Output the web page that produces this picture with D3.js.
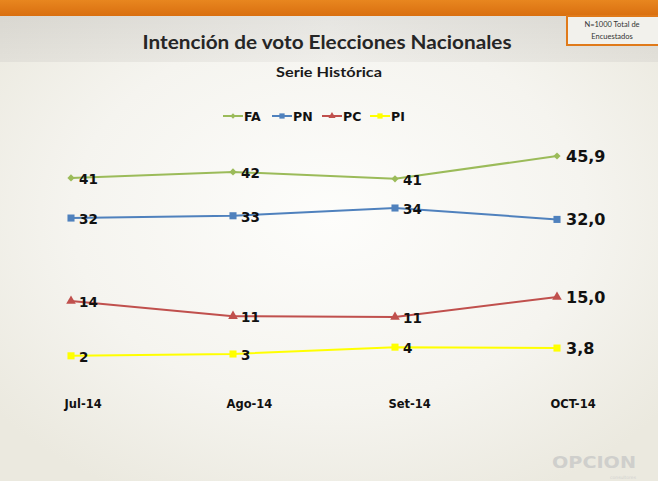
<!DOCTYPE html>
<html><head><meta charset="utf-8">
<script src="https://cdn.jsdelivr.net/npm/d3@7"></script>
<style>html,body{margin:0;padding:0;overflow:hidden;background:#f4f3ee}</style>
</head><body>
<svg id="c" width="658" height="481"></svg>
<script>
const months = ["Jul-14", "Ago-14", "Set-14", "OCT-14"];
const seriesNames = ["FA", "PN", "PC", "PI"];
const faValues = [41.1, 42.4, 40.9, 45.9];
const pnValues = [32.3, 32.8, 34.5, 32.0];
const pcValues = [14.1, 10.8, 10.6, 15.0];
const piValues = [2.1, 2.5, 4.0, 3.8];
const faLabels = ["41", "42", "41", "45,9"];
const pnLabels = ["32", "33", "34", "32,0"];
const pcLabels = ["14", "11", "11", "15,0"];
const piLabels = ["2", "3", "4", "3,8"];
const colors = ["#9bbb59", "#4f81bd", "#c0504d", "#ffff00"];

const series = [
  {name: seriesNames[0], values: faValues, labels: faLabels, color: colors[0], sym: d3.symbolSquare, rot: 45, size: 26},
  {name: seriesNames[1], values: pnValues, labels: pnLabels, color: colors[1], sym: d3.symbolSquare, rot: 0, size: 50},
  {name: seriesNames[2], values: pcValues, labels: pcLabels, color: colors[2], sym: d3.symbolTriangle, rot: 0, size: 40},
  {name: seriesNames[3], values: piValues, labels: piLabels, color: colors[3], sym: d3.symbolSquare, rot: 0, size: 50}
];

const svg = d3.select("#c");
const defs = svg.append("defs");
const bg = defs.append("radialGradient").attr("id","bg").attr("cx","50%").attr("cy","45%").attr("r","65%");
bg.append("stop").attr("offset","0%").attr("stop-color","#fdfdfb");
bg.append("stop").attr("offset","60%").attr("stop-color","#f5f4ef");
bg.append("stop").attr("offset","100%").attr("stop-color","#ebe9df");
const band = defs.append("linearGradient").attr("id","band").attr("x1","0").attr("x2","1");
band.append("stop").attr("offset","0%").attr("stop-color","#e2e0d9");
band.append("stop").attr("offset","50%").attr("stop-color","#efeeea");
band.append("stop").attr("offset","100%").attr("stop-color","#e2e0d9");
const band2 = defs.append("linearGradient").attr("id","band2").attr("x1","0").attr("x2","0").attr("y1","0").attr("y2","1");
band2.append("stop").attr("offset","0%").attr("stop-color","#000").attr("stop-opacity",0.04);
band2.append("stop").attr("offset","100%").attr("stop-color","#000").attr("stop-opacity",0.0);
const org = defs.append("linearGradient").attr("id","org").attr("x1","0").attr("x2","0").attr("y1","0").attr("y2","1");
org.append("stop").attr("offset","0%").attr("stop-color","#e8861f");
org.append("stop").attr("offset","100%").attr("stop-color","#d96f10");

svg.append("rect").attr("width",658).attr("height",481).attr("fill","url(#bg)");
svg.append("rect").attr("x",0).attr("y",16).attr("width",658).attr("height",46).attr("fill","url(#band)");
svg.append("rect").attr("x",0).attr("y",16).attr("width",658).attr("height",46).attr("fill","url(#band2)");
svg.append("rect").attr("x",0).attr("y",0).attr("width",658).attr("height",16).attr("fill","url(#org)");

// N box
svg.append("rect").attr("x",567).attr("y",16).attr("width",92).attr("height",29)
  .attr("fill","#f2f1ec").attr("stroke","#e07a1a").attr("stroke-width",2);
svg.append("text").attr("x",612).attr("y",27).attr("text-anchor","middle")
  .attr("font-family","Lato, 'Open Sans', sans-serif").attr("font-size",7.5).attr("fill","#333").text("N=1000 Total de");
svg.append("text").attr("x",612).attr("y",39).attr("text-anchor","middle")
  .attr("font-family","Lato, 'Open Sans', sans-serif").attr("font-size",7.5).attr("fill","#333").text("Encuestados");

// Titles
svg.append("text").attr("x",327).attr("y",49).attr("text-anchor","middle")
  .attr("font-family","Lato, sans-serif").attr("font-weight","bold").attr("font-size",19.5)
  .attr("fill","#262626").attr("textLength",369).attr("lengthAdjust","spacingAndGlyphs")
  .text("Intención de voto Elecciones Nacionales");
svg.append("text").attr("x",329).attr("y",77).attr("text-anchor","middle")
  .attr("font-family","Lato, sans-serif").attr("font-weight","bold").attr("font-size",13.5)
  .attr("fill","#1a1a1a").attr("textLength",106).attr("lengthAdjust","spacingAndGlyphs")
  .text("Serie Histórica");

// Legend
const legX = [223, 272, 322, 370];
const lg = svg.append("g");
series.forEach((s,i)=>{
  const g = lg.append("g").attr("transform",`translate(${legX[i]},116)`);
  g.append("line").attr("x1",0).attr("x2",20).attr("stroke",s.color).attr("stroke-width",2);
  g.append("path").attr("d",d3.symbol().type(s.sym).size(s.size*0.55)()).attr("transform",`translate(10,0) rotate(${s.rot})`).attr("fill",s.color);
  g.append("text").attr("x",21).attr("y",5).attr("font-family","'DejaVu Sans', sans-serif")
    .attr("font-weight","bold").attr("font-size",12.5).attr("fill","#111").text(s.name);
});

// Scales
const x = d3.scalePoint().domain(months).range([71, 557]);
const y = d3.scaleLinear().domain([0, 45.9]).range([365.4, 156]);

// X axis
const ax = svg.append("g").attr("transform","translate(0,398)")
  .call(d3.axisBottom(x).tickSize(0).tickPadding(0));
ax.select(".domain").remove();
ax.selectAll("text").attr("text-anchor","start").attr("dx",-7).attr("dy","0.35em").attr("y",6)
  .attr("font-family","'DejaVu Sans', sans-serif").attr("font-weight","bold").attr("font-size",11.5).attr("fill","#111");

// Lines
const line = d3.line().x((d,i)=>x(months[i])).y(d=>y(d));
series.forEach(s=>{
  svg.append("path").attr("d",line(s.values)).attr("fill","none").attr("stroke",s.color).attr("stroke-width",2);
});
series.forEach(s=>{
  svg.selectAll(null).data(s.values).enter().append("path")
    .attr("d",d3.symbol().type(s.sym).size(s.size)())
    .attr("transform",(d,i)=>`translate(${x(months[i])},${y(d)}) rotate(${s.rot})`)
    .attr("fill",s.color);
  svg.selectAll(null).data(s.values).enter().append("text")
    .attr("x",(d,i)=>x(months[i]) + (i===3 ? 9 : 8))
    .attr("y",(d,i)=>y(d) + (i===3 ? 6 : 6))
    .attr("font-family","'DejaVu Sans', sans-serif").attr("font-weight","bold")
    .attr("font-size",(d,i)=> i===3 ? 16 : 13.5).attr("fill","#111")
    .text((d,i)=>s.labels[i]);
});

// Logo
svg.append("text").attr("x",552).attr("y",468).attr("font-family","'DejaVu Sans', sans-serif")
  .attr("font-weight","bold").attr("font-size",16).attr("fill","#cfcfcc")
  .attr("textLength",84).attr("lengthAdjust","spacingAndGlyphs").text("OPCION");
svg.append("text").attr("x",636).attr("y",479).attr("text-anchor","end").attr("font-family","'DejaVu Sans', sans-serif")
  .attr("font-size",4.5).attr("fill","#d2d2cf").text("consultores");
</script>
</body></html>
